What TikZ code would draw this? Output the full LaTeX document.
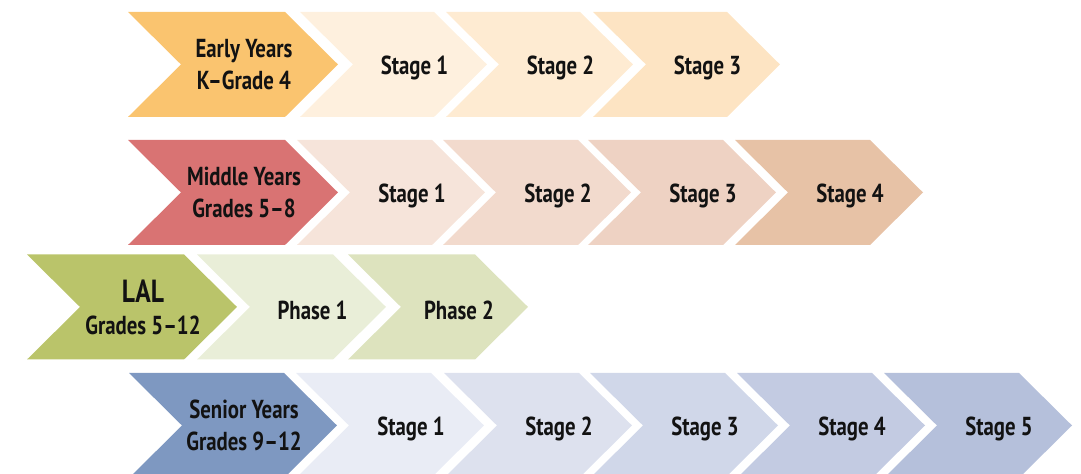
\documentclass[tikz,border=0pt]{standalone}
\usepackage{fontspec}
\newfontfamily\chevfont{PT Sans}[FakeStretch=0.8, Ligatures=TeX]
\definecolor{eyhead}{HTML}{FAC46F}
\definecolor{eyone}{HTML}{FEF0DE}
\definecolor{eytwo}{HTML}{FEEBD2}
\definecolor{eythree}{HTML}{FDE4C3}
\definecolor{myhead}{HTML}{D97373}
\definecolor{myone}{HTML}{F6E4DA}
\definecolor{mytwo}{HTML}{F2DACD}
\definecolor{mythree}{HTML}{EED2C3}
\definecolor{myfour}{HTML}{E7C2A6}
\definecolor{lalhead}{HTML}{BAC46A}
\definecolor{lalone}{HTML}{E9EED8}
\definecolor{laltwo}{HTML}{DDE3BE}
\definecolor{syhead}{HTML}{7E98C1}
\definecolor{syone}{HTML}{E9ECF5}
\definecolor{sytwo}{HTML}{DDE1EE}
\definecolor{sythree}{HTML}{D0D7E9}
\definecolor{syfour}{HTML}{C3CBE2}
\definecolor{syfive}{HTML}{B5C0DB}
% chevron: [node style], name, left x, centre y, top width, colour, text
\newcommand{\chev}[7][stg]{%
  \fill[#6] (#3,#4+52.5) -- ++(#5,0) -- ++(53,-52.5) -- ++(-53,-52.5)
    -- ++(-#5,0) -- ++(53,52.5) -- cycle;
  \node[lbl, #1] (#2) at ({#3+(#5+53)/2+15},#4) {#7};}
\begin{document}
\begin{tikzpicture}[x=0.5pt, y=0.5pt,
    lbl/.style={align=center, inner sep=0pt, text=black!93,
      font=\chevfont\bfseries\fontsize{13}{16}\selectfont},
    stg/.style={xshift=3pt, yshift=-1.5pt},
    hd/.style={xshift=-2pt}]
    \useasboundingbox (0,0) rectangle (1081,474);

    % Early Years
    \chev[hd]{ey}{128}{409.5}{157}{eyhead}{Early Years\\K--Grade 4}
    \chev{eys1}{300}{409.5}{134}{eyone}{Stage 1}
    \chev{eys2}{446}{409.5}{134}{eytwo}{Stage 2}
    \chev{eys3}{593}{409.5}{134}{eythree}{Stage 3}

    % Middle Years
    \chev[hd]{my}{128}{281.5}{157}{myhead}{Middle Years\\Grades 5--8}
    \chev{mys1}{297}{281.5}{135}{myone}{Stage 1}
    \chev{mys2}{443}{281.5}{135}{mytwo}{Stage 2}
    \chev{mys3}{588}{281.5}{135}{mythree}{Stage 3}
    \chev{mys4}{735}{281.5}{135}{myfour}{Stage 4}

    % LAL
    \chev[hd]{lal}{27}{167}{157}{lalhead}{{\fontsize{16}{16}\selectfont LAL}\\Grades 5--12}
    \chev{lalp1}{197}{167}{136}{lalone}{Phase 1}
    \chev{lalp2}{348}{167}{127}{laltwo}{Phase 2}

    % Senior Years
    \chev[hd]{sy}{129}{48.5}{155}{syhead}{Senior Years\\Grades 9--12}
    \chev{sys1}{296}{48.5}{135}{syone}{Stage 1}
    \chev{sys2}{444}{48.5}{135}{sytwo}{Stage 2}
    \chev{sys3}{590}{48.5}{135}{sythree}{Stage 3}
    \chev{sys4}{737}{48.5}{135}{syfour}{Stage 4}
    \chev{sys5}{884}{48.5}{135}{syfive}{Stage 5}
\end{tikzpicture}
\end{document}
